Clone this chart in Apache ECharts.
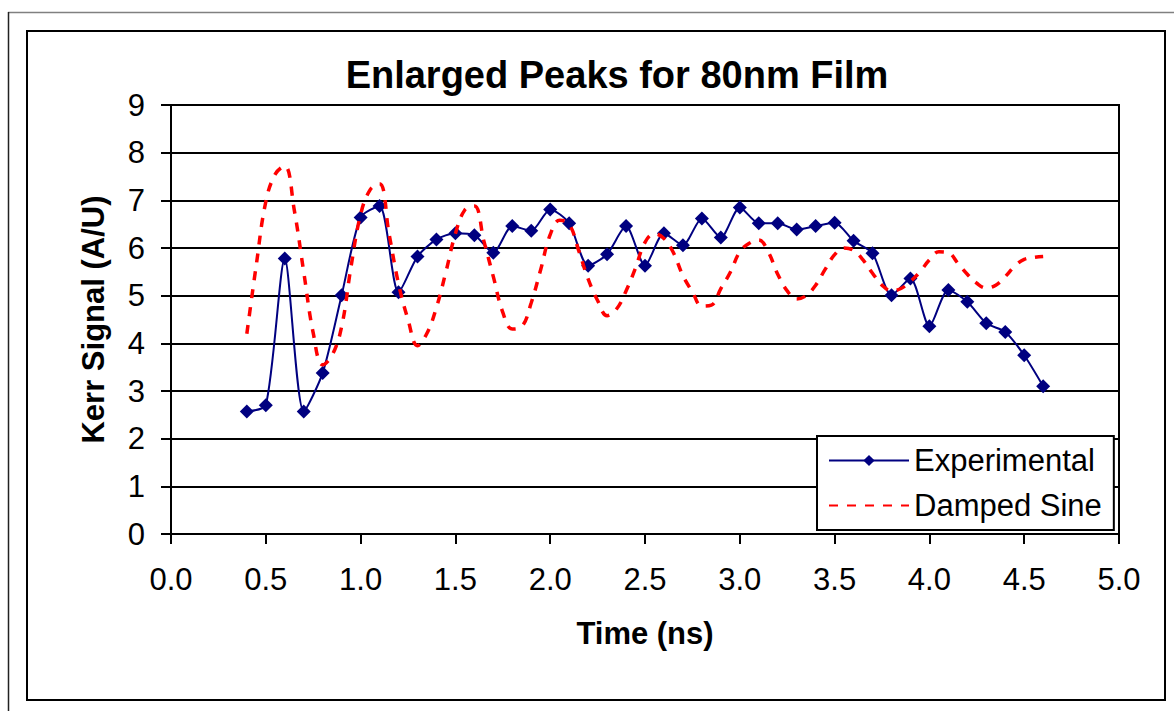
<!DOCTYPE html>
<html>
<head>
<meta charset="utf-8">
<script src="https://cdn.jsdelivr.net/npm/echarts@6/dist/echarts.min.js"></script>
<style>
  html, body { margin: 0; padding: 0; background: #fff; }
  #chart { width: 1174px; height: 711px; }
</style>
</head>
<body>
<div id="chart"></div>
<script>
// Measured Kerr signal, sampled every 0.1 ns
const expTime = [0.4, 0.5, 0.6, 0.7, 0.8, 0.9, 1.0, 1.1, 1.2, 1.3, 1.4, 1.5, 1.6, 1.7, 1.8, 1.9,
  2.0, 2.1, 2.2, 2.3, 2.4, 2.5, 2.6, 2.7, 2.8, 2.9, 3.0, 3.1, 3.2, 3.3, 3.4, 3.5, 3.6, 3.7,
  3.8, 3.9, 4.0, 4.1, 4.2, 4.3, 4.4, 4.5, 4.6];
const expSignal = [2.57, 2.70, 5.78, 2.57, 3.38, 5.01, 6.64, 6.88, 5.07, 5.82, 6.18, 6.31, 6.27,
  5.90, 6.46, 6.36, 6.81, 6.52, 5.63, 5.87, 6.46, 5.63, 6.31, 6.06, 6.62, 6.22, 6.85, 6.52,
  6.52, 6.39, 6.46, 6.53, 6.15, 5.89, 5.01, 5.36, 4.36, 5.12, 4.87, 4.42, 4.24, 3.75, 3.10];

// Damped sine fit, sampled every 0.05 ns
const fitTime = [0.40, 0.45, 0.50, 0.55, 0.60, 0.65, 0.70, 0.75, 0.80, 0.85, 0.90, 0.95,
  1.00, 1.05, 1.10, 1.15, 1.20, 1.25, 1.30, 1.35, 1.40, 1.45, 1.50, 1.55, 1.60, 1.65, 1.70,
  1.75, 1.80, 1.85, 1.90, 1.95, 2.00, 2.05, 2.10, 2.15, 2.20, 2.25, 2.30, 2.35, 2.40, 2.45,
  2.50, 2.55, 2.60, 2.65, 2.70, 2.75, 2.80, 2.85, 2.90, 2.95, 3.00, 3.05, 3.10, 3.15, 3.20,
  3.25, 3.30, 3.35, 3.40, 3.45, 3.50, 3.55, 3.60, 3.65, 3.70, 3.75, 3.80, 3.85, 3.90, 3.95,
  4.00, 4.05, 4.10, 4.15, 4.20, 4.25, 4.30, 4.35, 4.40, 4.45, 4.50, 4.55, 4.60];
const fitSignal = [4.20, 5.65, 6.97, 7.55, 7.72, 6.80, 5.50, 4.22, 3.55, 3.75, 4.35, 5.62,
  6.70, 7.22, 7.35, 6.30, 5.25, 4.50, 3.95, 4.21, 4.75, 5.50, 6.30, 6.80, 6.88, 6.15, 5.40,
  4.65, 4.30, 4.35, 4.85, 5.55, 6.28, 6.58, 6.50, 5.95, 5.35, 4.90, 4.58, 4.72, 5.10, 5.58,
  6.12, 6.30, 6.20, 5.90, 5.42, 5.08, 4.78, 4.80, 5.15, 5.49, 5.92, 6.10, 6.17, 5.92, 5.45,
  5.10, 4.93, 5.00, 5.22, 5.55, 5.86, 6.00, 5.95, 5.75, 5.47, 5.22, 5.10, 5.15, 5.30, 5.50,
  5.75, 5.92, 5.90, 5.68, 5.45, 5.26, 5.16, 5.22, 5.40, 5.62, 5.76, 5.80, 5.82];

const seriesNames = ['Experimental', 'Damped Sine'];
const titleText = 'Enlarged Peaks for 80nm Film';
const xAxisTitle = 'Time (ns)';
const yAxisTitle = 'Kerr Signal (A/U)';

const FONT = '"Liberation Sans", Arial, sans-serif';
const zip = (xs, ys) => xs.map((x, i) => [x, ys[i]]);

const chart = echarts.init(document.getElementById('chart'), null, { renderer: 'svg' });
chart.setOption({
  backgroundColor: '#fff',
  animation: false,
  textStyle: { fontFamily: FONT, color: '#000' },
  graphic: [
    // outer picture frame
    { type: 'line', shape: { x1: 8, y1: 12.5, x2: 1174, y2: 12.5 }, style: { stroke: '#808080', lineWidth: 1.5 }, silent: true },
    { type: 'line', shape: { x1: 8.5, y1: 12, x2: 8.5, y2: 711 }, style: { stroke: '#222', lineWidth: 1.5 }, silent: true },
    // chart area border
    { type: 'rect', shape: { x: 27, y: 31, width: 1138, height: 669 }, style: { fill: 'none', stroke: '#000', lineWidth: 2 }, silent: true, z: 0 },
    { type: 'text', x: 617, y: 75, style: { text: titleText, fontFamily: FONT, fontSize: 38, fontWeight: 'bold', fill: '#000', align: 'center', verticalAlign: 'middle' }, silent: true }
  ],
  grid: {
    left: 171, top: 105, right: 55, bottom: 177,
    show: true, borderColor: '#000', borderWidth: 2, backgroundColor: '#fff'
  },
  legend: {
    orient: 'vertical',
    left: 817, top: 436,
    padding: [9, 12, 9, 11],
    itemWidth: 80, itemHeight: 14, itemGap: 14,
    backgroundColor: '#fff', borderColor: '#000', borderWidth: 2,
    textStyle: { fontFamily: FONT, fontSize: 31, color: '#000' },
    data: [
      { name: seriesNames[0] },
      { name: seriesNames[1], itemStyle: { opacity: 0 } }
    ]
  },
  xAxis: {
    type: 'value', min: 0, max: 5, interval: 0.5,
    name: xAxisTitle, nameLocation: 'middle', nameGap: 84,
    nameTextStyle: { fontFamily: FONT, fontSize: 31, fontWeight: 'bold', color: '#000' },
    axisLine: { show: true, lineStyle: { color: '#000', width: 2 } },
    axisTick: { show: true, inside: false, length: 10, lineStyle: { color: '#000', width: 2 } },
    axisLabel: { fontFamily: FONT, fontSize: 31, color: '#000', margin: 30, formatter: v => v.toFixed(1) },
    splitLine: { show: false }
  },
  yAxis: {
    type: 'value', min: 0, max: 9, interval: 1,
    name: yAxisTitle, nameLocation: 'middle', nameGap: 62,
    nameTextStyle: { fontFamily: FONT, fontSize: 31, fontWeight: 'bold', color: '#000' },
    axisLine: { show: true, lineStyle: { color: '#000', width: 2 } },
    axisTick: { show: true, inside: false, length: 10, lineStyle: { color: '#000', width: 2 } },
    axisLabel: { fontFamily: FONT, fontSize: 31, color: '#000', margin: 26 },
    splitLine: { show: true, lineStyle: { color: '#000', width: 2 } }
  },
  series: [
    {
      name: seriesNames[0], type: 'line',
      data: zip(expTime, expSignal),
      smooth: 0.25,
      symbol: 'diamond', symbolSize: 14,
      itemStyle: { color: '#000080' },
      lineStyle: { color: '#000080', width: 2 },
      z: 3
    },
    {
      name: seriesNames[1], type: 'line',
      data: zip(fitTime, fitSignal),
      smooth: 0.4,
      showSymbol: false, symbol: 'none',
      itemStyle: { color: '#ff0000' },
      lineStyle: { color: '#ff0000', width: 3.5, type: [9, 9] },
      z: 4
    }
  ]
});
</script>
</body>
</html>
